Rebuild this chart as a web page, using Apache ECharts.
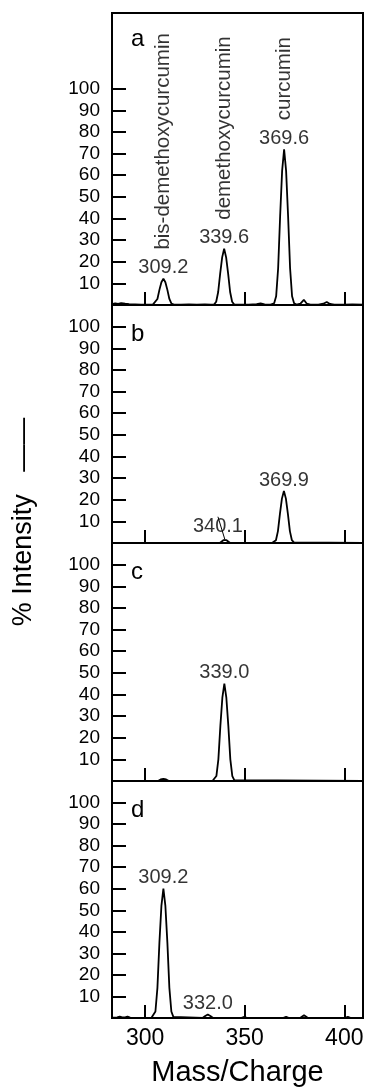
<!DOCTYPE html>
<html>
<head>
<meta charset="utf-8">
<script src="https://cdn.jsdelivr.net/npm/echarts@6/dist/echarts.min.js"></script>
<style>
html,body{margin:0;padding:0;background:#fff;}
#chart{width:365px;height:1092px;}
</style>
</head>
<body>
<div id="chart"></div>
<script>
// ---- data (m/z, % intensity) ----
const spectrumA = [
  [283.4,0.4],[285,0.8],[286.5,0.5],[288,0.9],[290,0.6],[292,0.4],[295,0.3],[298,0.2],[302,0.2],[304,0.3],
  [305,0.7],[306.2,2.8],[307.2,7],[308.2,10.5],[309.2,12.2],[310.2,10.5],[311.2,7],[312.2,2.8],[313.2,0.7],[314.5,0.2],
  [318,0.2],[322,0.3],[326,0.2],[330,0.3],[333,0.2],[334.7,0.3],[335.7,1.5],[336.7,6],[337.7,14.5],[338.7,22],
  [339.7,26],[340.7,22],[341.7,14.5],[342.7,6],[343.7,1.5],[344.7,0.3],[347,0.2],[352,0.2],[356,0.4],[358,0.7],
  [360,0.3],[363,0.2],[364.8,0.8],[365.8,4],[366.8,17],[367.8,41],[368.8,62],[369.8,72],[370.8,62],[371.8,41],
  [372.8,17],[373.8,4],[374.8,0.8],[376,0.2],[378,0.6],[379.7,2.4],[381.2,0.6],[383,0.2],[387,0.2],[389.5,0.6],
  [391.2,1.4],[392.8,0.5],[395,0.2],[400,0.2],[404,0.3],[409.4,0.2]
];
const spectrumB = [
  [283.4,0],[337.5,0],[338.5,0.5],[339.3,1.3],[340.1,1.5],[340.9,1.3],[341.7,0.5],[342.7,0],
  [363.7,0],[364.7,0.3],[365.7,1.3],[366.7,5.5],[367.7,13.5],[368.7,20.5],[369.7,24],[370.7,20.5],
  [371.7,13.5],[372.7,5.5],[373.7,1.3],[374.7,0.3],[375.7,0],[409.4,0]
];
const spectrumC = [
  [283.4,0],[306.5,0],[307.8,0.7],[309.2,1],[310.6,0.7],[312,0],[333.8,0],[334.8,0.4],[335.8,2.3],
  [336.8,10],[337.8,25.5],[338.8,38.5],[339.8,45],[340.8,38.5],[341.8,25.5],[342.8,10],[343.8,2.3],
  [344.8,0.4],[345.8,0],[409.4,0]
];
const spectrumD = [
  [283.4,0.2],[286,0.3],[287.3,0.7],[288.5,0.3],[290,0.3],[291.2,0.7],[292.5,0.2],[300,0.1],[303.2,0.1],
  [304.2,0.5],[305.2,3],[306.2,14],[307.2,35],[308.2,52],[309.2,60],[310.2,52],[311.2,35],[312.2,14],
  [313.2,3],[314.2,0.5],[315.2,0.1],[329,0.1],[330.2,0.9],[331.5,1.6],[332.8,0.9],[334,0.1],[348.5,0.1],
  [349.8,0.6],[351,0.1],[369.5,0.1],[370.8,0.6],[372,0.1],[378,0.1],[378.8,0.9],[379.8,1.3],[380.8,0.9],
  [381.6,0.1],[400.5,0.1],[401.8,0.6],[403,0.1],[409.4,0.1]
];
const peaksA = [[309.2,12.2],[339.7,26],[369.8,72]];
const peakTextA = ['309.2','339.6','369.6'];
const compoundNames = ['bis-demethoxycurcumin','demethoxycurcumin','curcumin'];
const peaksB = [[340.1,1.5],[369.7,24]];
const peakTextB = ['340.1','369.9'];
const peaksC = [[339.8,45]];
const peakTextC = ['339.0'];
const peaksD = [[309.2,60],[331.5,1.6]];
const peakTextD = ['309.2','332.0'];
const panelLetters = ['a','b','c','d'];
const yTicks = [10,20,30,40,50,60,70,80,90,100];
const xTicks = [300,350,400];
const yMax = [135,110,110,110];
const xTitle = 'Mass/Charge';
const yTitle = '% Intensity   \u2014\u2014';

// ---- build option ----
const FONT = "'Liberation Sans', Arial, Helvetica, sans-serif";
const INK = '#000';
const layout = [
  {top:13, height:292}, {top:305, height:238}, {top:543, height:238}, {top:781, height:237}
];
const spectra = [spectrumA, spectrumB, spectrumC, spectrumD];
const peaks = [peaksA, peaksB, peaksC, peaksD];
const peakTexts = [peakTextA, peakTextB, peakTextC, peakTextD];

const grids = [], xAxes = [], yAxes = [], series = [], graphics = [];
layout.forEach((g, i) => {
  grids.push({left:112, width:251, top:g.top, height:g.height, show:true, outerBoundsMode:'none',
    containLabel:false, borderColor:INK, borderWidth:2, backgroundColor:'transparent'});
  xAxes.push({
    gridIndex:i, type:'value', min:283.4, max:409.4,
    axisLine:{show:true, lineStyle:{color:INK, width:2}},
    axisTick:{show:true, inside:true, length:13, customValues:xTicks, lineStyle:{color:INK, width:2}},
    axisLabel:{show:i===3, customValues:xTicks, fontSize:23, margin:9, color:INK, fontFamily:FONT},
    splitLine:{show:false},
    name: i===3 ? xTitle : '', nameLocation:'middle', nameGap:40,
    nameTextStyle:{fontSize:29, color:INK, fontFamily:FONT}
  });
  yAxes.push({
    gridIndex:i, type:'value', min:0, max:yMax[i],
    axisLine:{show:true, lineStyle:{color:INK, width:2}},
    axisTick:{show:true, inside:true, length:14, customValues:yTicks, lineStyle:{color:INK, width:2}},
    axisLabel:{show:true, customValues:yTicks, fontSize:19, margin:12, color:INK, fontFamily:FONT},
    splitLine:{show:false}
  });
  series.push({
    type:'line', xAxisIndex:i, yAxisIndex:i, data:spectra[i], showSymbol:false, symbol:'none',
    lineStyle:{color:INK, width:1.8}, silent:true, animation:false, z:3
  });
  // small leader line only for the tiny 340.1 bump in panel b
  const leader = (i === 1);
  series.push({
    type:'scatter', xAxisIndex:i, yAxisIndex:i, symbolSize:0, silent:true, animation:false, z:4,
    data: peaks[i].map((p,k) => {
      const item = {value:p, name:peakTexts[i][k]};
      if (leader && k === 0) item.labelLine = {show:true, lineStyle:{color:INK, width:1}};
      return item;
    }),
    label:{show:true, position:'top', distance:1, formatter:'{b}', fontSize:20, color:INK, fontFamily:FONT},
    labelLine:{show:false},
    labelLayout: leader ? function (p) { return p.dataIndex === 0 ? {dx:-7, dy:-2} : {}; } : null,
    itemStyle:{color:'transparent'}
  });
  graphics.push({type:'text', left:131, top:g.top + (i===0 ? 14 : 17),
    style:{text:panelLetters[i], font:'24px ' + FONT, fill:INK}});
});
series.push({
  type:'scatter', xAxisIndex:0, yAxisIndex:0, symbolSize:0, silent:true, animation:false, z:4,
  data: peaksA.map((p,k) => ({value:p, name:compoundNames[k]})),
  label:{show:true, position:'top', distance:29, rotate:90, align:'left', verticalAlign:'middle',
    formatter:'{b}', fontSize:20.5, color:INK, fontFamily:FONT},
  itemStyle:{color:'transparent'}
});
graphics.push({type:'text', x:24, y:522, rotation:Math.PI/2,
  style:{text:yTitle, font:'27px ' + FONT, fill:INK, align:'center', verticalAlign:'middle'}});

const chart = echarts.init(document.getElementById('chart'), null, {renderer:'canvas'});
chart.setOption({
  backgroundColor:'#fff', animation:false,
  grid:grids, xAxis:xAxes, yAxis:yAxes, series:series, graphic:graphics
});
</script>
</body>
</html>
